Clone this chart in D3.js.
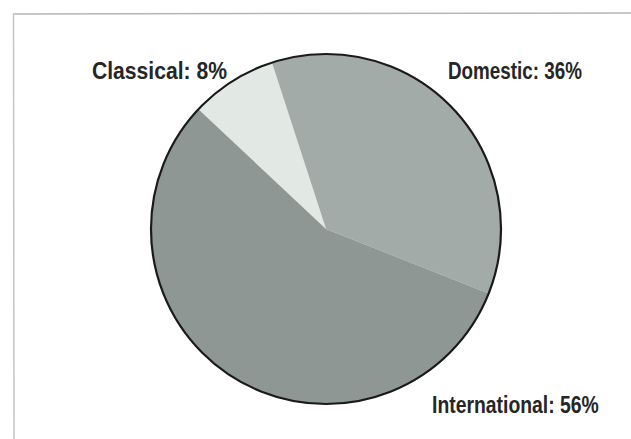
<!DOCTYPE html>
<html lang="en">
<head>
<meta charset="utf-8">
<title>Classical, Domestic, International</title>
<script src="https://cdn.jsdelivr.net/npm/d3@7"></script>
<style>
  body { margin: 0; background: #fff; }
  svg { display: block; }
  .lbl { font-family: "Liberation Sans", Arial, sans-serif; font-weight: bold; font-size: 24px; fill: #262626; }
</style>
</head>
<body>
<div id="chart"></div>
<script>
// slice data, in drawing order (clockwise)
var categories = ["Classical", "Domestic", "International"];
var shares = [8, 36, 56];
var labels = ["Classical: 8%", "Domestic: 36%", "International: 56%"];

var width = 631, height = 439;
var cx = 326, cy = 229, r = 175;

var svg = d3.select("#chart").append("svg")
  .attr("width", width)
  .attr("height", height);

// frame lines (top and left only, as in the scan)
svg.append("line").attr("x1", 13).attr("y1", 14).attr("x2", width).attr("y2", 13)
  .attr("stroke", "#b5b5b5").attr("stroke-width", 1.5);
svg.append("line").attr("x1", 13.5).attr("y1", 14).attr("x2", 14).attr("y2", height)
  .attr("stroke", "#c4c4c4").attr("stroke-width", 1.5);

var color = d3.scaleOrdinal()
  .domain(categories)
  .range(["#e2e8e4", "#a3aba8", "#8e9794"]);

var startA = -46.8 * Math.PI / 180;
var pie = d3.pie().sort(null).value(function(d) { return d; })
  .startAngle(startA).endAngle(startA + 2 * Math.PI);

var arc = d3.arc().innerRadius(0).outerRadius(r);

var g = svg.append("g").attr("transform", "translate(" + cx + "," + cy + ")");

g.selectAll("path.slice")
  .data(pie(shares))
  .enter().append("path")
  .attr("class", "slice")
  .attr("d", arc)
  .attr("fill", function(d, i) { return color(categories[i]); });

g.append("circle").attr("r", r)
  .attr("fill", "none").attr("stroke", "#1a1a1a").attr("stroke-width", 2.2);

// labels: squeeze horizontally to get the condensed look (no narrow font installed)
// [left x, baseline, width]
var pos = [[92, 79, 135], [448, 79, 134], [432, 413, 167]];
svg.selectAll("text.lbl")
  .data(labels)
  .enter().append("text")
  .attr("class", "lbl")
  .text(function(d) { return d; })
  .attr("transform", function(d, i) {
    var w = this.getComputedTextLength();
    return "translate(" + pos[i][0] + "," + pos[i][1] + ") scale(" + (pos[i][2] / w) + ",1)";
  });
</script>
</body>
</html>
